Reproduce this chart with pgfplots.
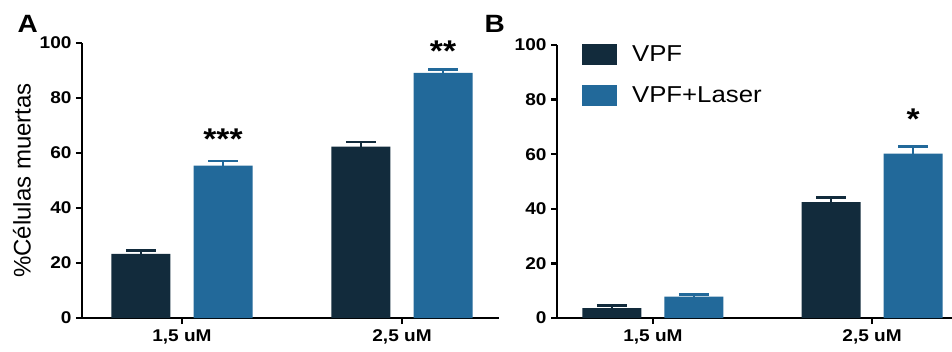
\documentclass[border=0pt]{standalone}
\usepackage{pgfplots}
\pgfplotsset{compat=1.18}
\usepackage{fontspec}
\setmainfont{Liberation Sans}[FakeStretch=1.12]
\newfontfamily\plainfont{Liberation Sans}
\definecolor{darkbar}{HTML}{122B3C}
\definecolor{bluebar}{HTML}{22699A}
\newcommand\tickfont{\fontsize{17}{17}\selectfont\bfseries}
\newcommand\legfont{\fontsize{23}{23}\selectfont}
\newcommand\starfont{\fontsize{30}{30}\selectfont\bfseries}
\pgfplotsset{
  panel/.style={
    scale only axis,
    ymin=0, ymax=100,
    ytick={0,20,40,60,80,100},
    xtick={0,1},
    xticklabels={{1,5 uM},{2,5 uM}},
    axis x line*=bottom,
    axis y line*=left,
    axis line style={line width=2.5pt, black},
    tick style={line width=2.5pt, black},
    major tick length=6pt,
    tick align=outside,
    /pgf/number format/assume math mode=true,
    tick label style={font=\tickfont},
    yticklabel style={xshift=-1pt},
    xticklabel style={yshift=-2pt},
    clip=false,
  },
  darkstyle/.style={ybar, bar width=59pt, bar shift=0pt, fill=darkbar, draw=none,
    error bars/.cd, y dir=plus, y explicit,
    error bar style={line width=2.8pt, darkbar},
    error mark options={rotate=90, line width=2.8pt, darkbar, mark size=15pt}},
  bluestyle/.style={ybar, bar width=59pt, bar shift=0pt, fill=bluebar, draw=none,
    error bars/.cd, y dir=plus, y explicit,
    error bar style={line width=2.8pt, bluebar},
    error mark options={rotate=90, line width=2.8pt, bluebar, mark size=15pt}},
}
\begin{document}
\begin{tikzpicture}
\useasboundingbox (0pt,0pt) rectangle (952pt,351pt);
% Panel A
\begin{axis}[panel, at={(82pt,33pt)}, anchor=south west,
  width=417pt, height=275pt,
  xmin=-0.4545, xmax=1.4409,
  ylabel={\plainfont\fontsize{24}{24}\selectfont \%Células muertas},
  every axis y label/.style={at={(axis description cs:0,0.5)}, xshift=-60pt, rotate=90, anchor=center},
]
\addplot[darkstyle] coordinates {(-0.1864,23.3) +- (0,1.2) (0.8136,62.3) +- (0,1.7)};
\addplot[bluestyle] coordinates {(0.1864,55.4) +- (0,1.7) (1.1864,89.1) +- (0,1.2)};
\node[font=\starfont] at (axis cs:0.1864,65) {***};
\node[font=\starfont] at (axis cs:1.1864,97) {**};
\end{axis}
% Panel B
\begin{axis}[panel, at={(557pt,33pt)}, anchor=south west,
  width=395pt, height=273pt,
  xmin=-0.438, xmax=1.365,
  legend style={draw=none, fill=none, at={(axis description cs:0.063,1.005)}, anchor=north west,
    inner sep=0pt, font=\legfont, row sep=20pt,
    nodes={inner xsep=15pt}},
  legend cell align=left,
  legend image code/.code={\fill[#1] (0pt,-10.5pt) rectangle (35pt,10.5pt);},
]
\addplot[darkstyle] coordinates {(-0.1872,3.6) +- (0,0.9) (0.8128,42.4) +- (0,1.8)};
\addplot[bluestyle] coordinates {(0.1872,7.8) +- (0,0.9) (1.1872,60.2) +- (0,2.5)};
\legend{VPF, VPF+Laser}
\node[font=\starfont] at (axis cs:1.1872,73) {*};
\end{axis}
\node[anchor=base west, font=\fontsize{25}{25}\selectfont\bfseries] at (14pt,318pt) {A};
\node[anchor=base west, font=\fontsize{25}{25}\selectfont\bfseries] at (481pt,318pt) {B};
\end{tikzpicture}
\end{document}
